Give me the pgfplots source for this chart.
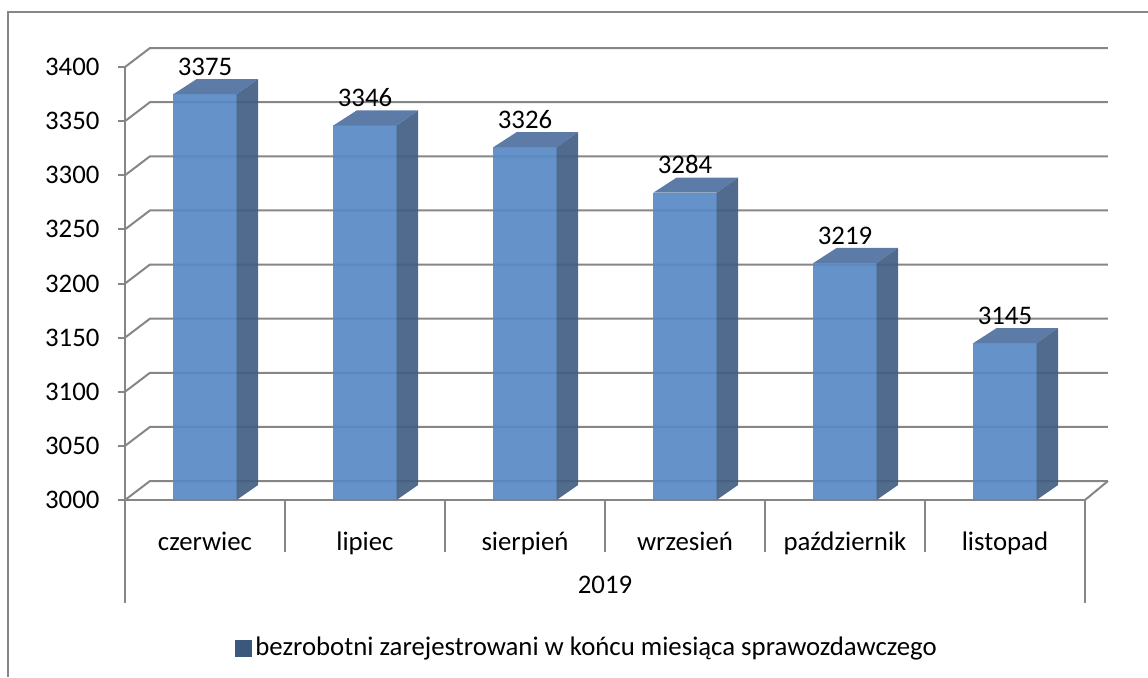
\documentclass[border=0pt]{standalone}
\usepackage{pgfplots}
\pgfplotsset{compat=1.18}
\usepackage{pgfplotstable}
\usepackage{fontspec}
\setmainfont{Carlito}
\definecolor{frontc}{RGB}{88,137,195}
\definecolor{sidec}{RGB}{66,94,133}
\definecolor{topc}{RGB}{78,112,160}
\definecolor{legc}{RGB}{60,87,124}
\definecolor{gridc}{RGB}{134,134,134}
\pgfplotstableread{
x v
0.5 3375
1.5 3346
2.5 3326
3.5 3284
4.5 3219
5.5 3145
}\data
\begin{document}
\fontsize{13.4}{16}\selectfont
\begin{tikzpicture}
\useasboundingbox (0,0) rectangle (574pt,338.5pt);
\draw[gridc, line width=0.8pt] (4pt,0) -- (4pt,332.5pt) -- (574pt,332.5pt);
\begin{axis}[
  at={(62.5pt,88.5pt)}, anchor=south west,
  scale only axis, width=480pt, height=216.5pt,
  xmin=0, xmax=6, ymin=3000, ymax=3400,
  clip=false,
  axis lines=left,
  axis line style={-, gridc, line width=1pt},
  ytick={3000,3050,...,3400},
  tick align=outside,
  major tick length=3.5pt,
  ytick style={gridc, line width=1pt},
  yticklabel style={xshift=-4.6pt},
  xtick={0.5,1.5,...,5.5},
  xticklabels={czerwiec,lipiec,sierpień,wrzesień,październik,listopad},
  xtick style={draw=none},
  xticklabel style={anchor=base, yshift=-21.5pt},
  /pgf/number format/1000 sep={},
  /pgf/number format/assume math mode=true,
  legend style={draw=none, fill=none, at={(0.482,-0.3418)}, anchor=center},
]
% back wall, side wall and floor
\pgfplotsinvokeforeach{3000,3050,...,3400}{
  \draw[gridc, line width=1pt] (axis cs:0,#1) -- (axis cs:0.15625,#1+17.55) -- (axis cs:6.14375,#1+17.55);
}
\draw[gridc, line width=1pt] (axis cs:6,3000) -- (axis cs:6.14375,3017.55);
% category separators
\pgfplotsinvokeforeach{1,...,5}{
  \draw[gridc, line width=1pt] (axis cs:#1,3000) -- ++(0pt,-26pt);
}
\draw[gridc, line width=1pt] (axis cs:0,3000) -- ++(0pt,-51.5pt);
\draw[gridc, line width=1pt] (axis cs:6,3000) -- ++(0pt,-51.5pt);
\node[anchor=base, yshift=-46.5pt] at (axis cs:3,3000) {2019};
% 3D bars
\pgfplotsinvokeforeach{0,...,5}{
  \pgfplotstablegetelem{#1}{x}\of\data \let\cx\pgfplotsretval
  \pgfplotstablegetelem{#1}{v}\of\data \let\cv\pgfplotsretval
  \pgfmathsetmacro\xl{\cx-0.197}
  \pgfmathsetmacro\xr{\cx+0.197}
  \pgfmathsetmacro\xlb{\cx-0.197+0.145}
  \pgfmathsetmacro\xrb{\cx+0.197+0.135}
  \pgfmathsetmacro\vb{\cv+13.86}
  \edef\doplot{%
    \noexpand\addplot[fill=frontc, fill opacity=0.92, draw=none, forget plot] coordinates {(\xl,3000) (\xr,3000) (\xr,\cv) (\xl,\cv)};
    \noexpand\addplot[fill=sidec, fill opacity=0.92, draw=none, forget plot] coordinates {(\xr,3000) (\xrb,3013.86) (\xrb,\vb) (\xr,\cv)};
    \noexpand\addplot[fill=topc, fill opacity=0.92, draw=none, forget plot] coordinates {(\xl,\cv) (\xr,\cv) (\xrb,\vb) (\xlb,\vb)};
  }%
  \doplot
}
% value labels
\addplot[only marks, mark=none, point meta=explicit, nodes near coords,
  nodes near coords style={anchor=south, inner sep=0pt, yshift=1.5pt, text=black},
  forget plot] table[x=x, y expr=\thisrow{v}+13.86, meta=v]{\data};
\addlegendimage{legend image code/.code={\fill[legc] (0pt,-4pt) rectangle (8pt,4pt);}}
\addlegendentry{bezrobotni zarejestrowani w końcu miesiąca sprawozdawczego}
\end{axis}
\end{tikzpicture}
\end{document}
